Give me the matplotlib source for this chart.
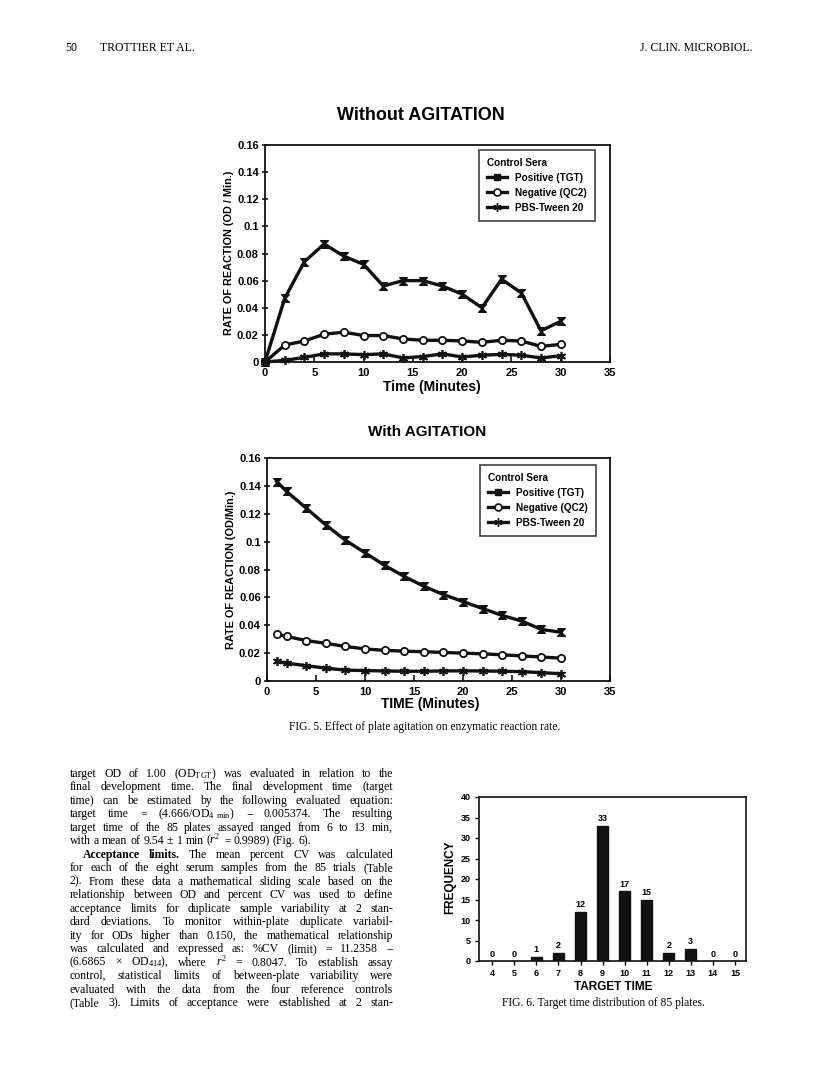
import matplotlib
matplotlib.use('Agg')
import matplotlib.pyplot as plt
from matplotlib.path import Path
from matplotlib.lines import Line2D

W, H = 816, 1089
plt.rcParams['font.family'] = ['Liberation Sans', 'DejaVu Sans']
plt.rcParams['mathtext.fontset'] = 'custom'
plt.rcParams['mathtext.rm'] = 'Liberation Serif'
plt.rcParams['mathtext.it'] = 'Liberation Serif:italic'
plt.rcParams['mathtext.bf'] = 'Liberation Serif:bold'

# ---------------- data ----------------
time_no_agit = [0, 2, 4, 6, 8, 10, 12, 14, 16, 18, 20, 22, 24, 26, 28, 30]
pos_no_agit = [0.0, 0.047, 0.074, 0.087, 0.078, 0.072, 0.056, 0.060, 0.060,
               0.056, 0.050, 0.040, 0.061, 0.051, 0.023, 0.030]
neg_no_agit = [0.0, 0.0125, 0.0155, 0.0205, 0.022, 0.0195, 0.0195, 0.017, 0.016,
               0.016, 0.0155, 0.0145, 0.016, 0.0155, 0.0115, 0.013]
pbs_no_agit = [0.0, 0.0012, 0.0034, 0.006, 0.006, 0.0054, 0.006, 0.003, 0.004,
               0.006, 0.0037, 0.005, 0.0056, 0.005, 0.003, 0.0046]

time_agit = [1, 2, 4, 6, 8, 10, 12, 14, 16, 18, 20, 22, 24, 26, 28, 30]
pos_agit = [0.143, 0.136, 0.124, 0.112, 0.101, 0.092, 0.083, 0.075, 0.068,
            0.062, 0.057, 0.052, 0.047, 0.043, 0.037, 0.035]
neg_agit = [0.0335, 0.032, 0.029, 0.027, 0.0248, 0.023, 0.022, 0.0214, 0.021,
            0.0205, 0.020, 0.0195, 0.0188, 0.018, 0.0172, 0.0164]
pbs_agit = [0.014, 0.0128, 0.011, 0.0092, 0.0078, 0.0075, 0.0072, 0.0070, 0.0070,
            0.0072, 0.0073, 0.0072, 0.0070, 0.0067, 0.0060, 0.0052]

rate_yticks = [0, 0.02, 0.04, 0.06, 0.08, 0.10, 0.12, 0.14, 0.16]
rate_ytick_labels = ['0', '0.02', '0.04', '0.06', '0.08', '0.1', '0.12', '0.14', '0.16']
time_xticks = [0, 5, 10, 15, 20, 25, 30, 35]
series_names = ['Positive (TGT)', 'Negative (QC2)', 'PBS-Tween 20']

target_times = [4, 5, 6, 7, 8, 9, 10, 11, 12, 13, 14, 15]
frequency = [0, 0, 1, 2, 12, 33, 17, 15, 2, 3, 0, 0]
freq_yticks = [0, 5, 10, 15, 20, 25, 30, 35, 40]

body_lines = [
    r"target OD of 1.00 (OD$_{\mathrm{TGT}}$) was evaluated in relation to the",
    "final development time. The final development time (target",
    "time) can be estimated by the following evaluated equation:",
    r"target time = (4.666/OD$_{4\;\;\mathrm{min}}$) − 0.005374. The resulting",
    "target time of the 85 plates assayed ranged from 6 to 13 min,",
    r"with a mean of 9.54 ± 1 min ($r^2$ = 0.9989) (Fig. 6).",
    "Acceptance limits. The mean percent CV was calculated",
    "for each of the eight serum samples from the 85 trials (Table",
    "2). From these data a mathematical sliding scale based on the",
    "relationship between OD and percent CV was used to define",
    "acceptance limits for duplicate sample variability at 2 stan-",
    "dard deviations. To monitor within-plate duplicate variabil-",
    "ity for ODs higher than 0.150, the mathematical relationship",
    "was calculated and expressed as: %CV (limit) = 11.2358 −",
    r"(6.6865 × OD$_{414}$), where $r^2$ = 0.8047. To establish assay",
    "control, statistical limits of between-plate variability were",
    "evaluated with the data from the four reference controls",
    "(Table 3). Limits of acceptance were established at 2 stan-",
]

# ---------------- figure ----------------
fig = plt.figure(figsize=(W / 100, H / 100), dpi=100)
fig.patch.set_facecolor('white')


def ax_px(l, t, r, b):
    return fig.add_axes([l / W, 1 - b / H, (r - l) / W, (b - t) / H])


def ftext(x, y, s, **kw):
    return fig.text(x / W, 1 - y / H, s, **kw)


hourglass = Path([(-1, 1), (1, 1), (-1, -1), (1, -1), (-1, 1)],
                 [Path.MOVETO, Path.LINETO, Path.LINETO, Path.LINETO, Path.CLOSEPOLY])
LW = 2.4
INK = '#111111'


def rate_chart(ax, t, pos, neg, pbs, legend_anchor):
    ax.plot(t, pos, color=INK, lw=LW, marker=hourglass, ms=5.5, mfc=INK, mec=INK, clip_on=False, zorder=3)
    ax.plot(t, neg, color=INK, lw=LW, marker='o', ms=5.2, mfc='white', mec=INK, mew=1.3, clip_on=False, zorder=3)
    ax.plot(t, pbs, color=INK, lw=LW, marker=(6, 2, 0), ms=6.5, mec=INK, mew=1.2, clip_on=False, zorder=3)
    ax.set_xlim(0, 35)
    ax.set_ylim(0, 0.16)
    ax.set_xticks(time_xticks)
    ax.set_xticklabels([str(v) for v in time_xticks], fontsize=8, fontweight='bold')
    ax.set_yticks(rate_yticks)
    ax.set_yticklabels(rate_ytick_labels, fontsize=8, fontweight='bold')
    ax.tick_params(axis='x', direction='in', length=4, width=1.1, pad=4)
    ax.tick_params(axis='y', direction='inout', length=5, width=1.1, pad=2)
    for s in ax.spines.values():
        s.set_linewidth(1.3)
        s.set_color(INK)
    handles = [
        Line2D([], [], color=INK, lw=LW, marker='s', ms=4.5, mfc=INK, mec=INK),
        Line2D([], [], color=INK, lw=LW, marker='o', ms=5, mfc='white', mec=INK, mew=1.2),
        Line2D([], [], color=INK, lw=LW, marker=(6, 2, 0), ms=6, mec=INK, mew=1.0),
    ]
    leg = ax.legend(handles, series_names, loc='upper right', bbox_to_anchor=legend_anchor,
                    title='Control Sera', alignment='left', fancybox=False, frameon=True,
                    prop={'size': 7.2, 'weight': 'bold'},
                    title_fontproperties={'size': 7.2, 'weight': 'bold'},
                    handlelength=2.0, handletextpad=0.8, labelspacing=0.5,
                    borderpad=0.8, borderaxespad=0)
    leg.get_frame().set_edgecolor(INK)
    leg.get_frame().set_linewidth(1.2)


# header
ftext(65, 48, "50", fontsize=8.5, family='Liberation Serif', va='center', ha='left')
ftext(100, 48, "TROTTIER ET AL.", fontsize=8.5, family='Liberation Serif', va='center', ha='left')
ftext(752, 48, "J. CLIN. MICROBIOL.", fontsize=8.5, family='Liberation Serif', va='center', ha='right')

# top chart
ftext(421, 115, "Without AGITATION", fontsize=13, fontweight='bold', ha='center', va='center')
ax1 = ax_px(265, 145, 610, 362)
rate_chart(ax1, time_no_agit, pos_no_agit, neg_no_agit, pbs_no_agit, (0.957, 0.977))
ftext(229, 253, "RATE OF REACTION (OD / Min.)", fontsize=7.8, fontweight='bold',
      rotation=90, ha='center', va='center')
ftext(432, 387, "Time (Minutes)", fontsize=10, fontweight='bold', ha='center', va='center')

# bottom chart
ftext(427, 432, "With AGITATION", fontsize=11, fontweight='bold', ha='center', va='center')
ax2 = ax_px(267, 458, 610, 681)
rate_chart(ax2, time_agit, pos_agit, neg_agit, pbs_agit, (0.959, 0.969))
ftext(231, 570, "RATE OF REACTION (OD/Min.)", fontsize=7.8, fontweight='bold',
      rotation=90, ha='center', va='center')
ftext(430, 704, "TIME (Minutes)", fontsize=10, fontweight='bold', ha='center', va='center')

ftext(425, 727, "FIG. 5. Effect of plate agitation on enzymatic reaction rate.",
      fontsize=8.3, family='Liberation Serif', ha='center', va='center')

# bar chart
ax3 = ax_px(479, 797, 746, 961)
ax3.bar(target_times, frequency, width=0.5, color=INK, edgecolor=INK)
for xv, fv in zip(target_times, frequency):
    ax3.text(xv, fv + 0.6, str(fv), ha='center', va='bottom', fontsize=6.5, fontweight='bold')
ax3.set_xlim(3.4, 15.5)
ax3.set_ylim(0, 40)
ax3.set_xticks(target_times)
ax3.set_xticklabels([str(v) for v in target_times], fontsize=6.5, fontweight='bold')
ax3.set_yticks(freq_yticks)
ax3.set_yticklabels([str(v) for v in freq_yticks], fontsize=6.5, fontweight='bold')
ax3.tick_params(axis='both', direction='out', length=3, width=1.0, pad=3)
for s in ax3.spines.values():
    s.set_linewidth(1.2)
    s.set_color(INK)
ftext(450, 877, "FREQUENCY", fontsize=8.5, fontweight='bold', rotation=90, ha='center', va='center')
ftext(613, 987, "TARGET TIME", fontsize=8.5, fontweight='bold', ha='center', va='center')
ftext(603, 1003, "FIG. 6. Target time distribution of 85 plates.",
      fontsize=8.3, family='Liberation Serif', ha='center', va='center')

# body text (justified)
renderer = fig.canvas.get_renderer()
left, right = 70, 393
y0, dy = 777, 13.47
for i, line in enumerate(body_lines):
    yb = y0 + i * dy
    indent = 13 if i == 6 else 0
    toks = line.split(' ')
    objs = []
    for j, tok in enumerate(toks):
        bold = (i == 6 and j < 2)
        objs.append(ftext(0, yb, tok, fontsize=8.5, family='Liberation Serif',
                          fontweight='bold' if bold else 'normal', ha='left', va='baseline'))
    widths = [o.get_window_extent(renderer).width for o in objs]
    avail = right - left - indent
    if i == 5 or len(objs) == 1:
        gap = 3.0
    else:
        gap = (avail - sum(widths)) / (len(objs) - 1)
    x = left + indent
    for o, w in zip(objs, widths):
        o.set_x(x / W)
        x += w + gap

fig.savefig('out.png', dpi=100, facecolor='white')
